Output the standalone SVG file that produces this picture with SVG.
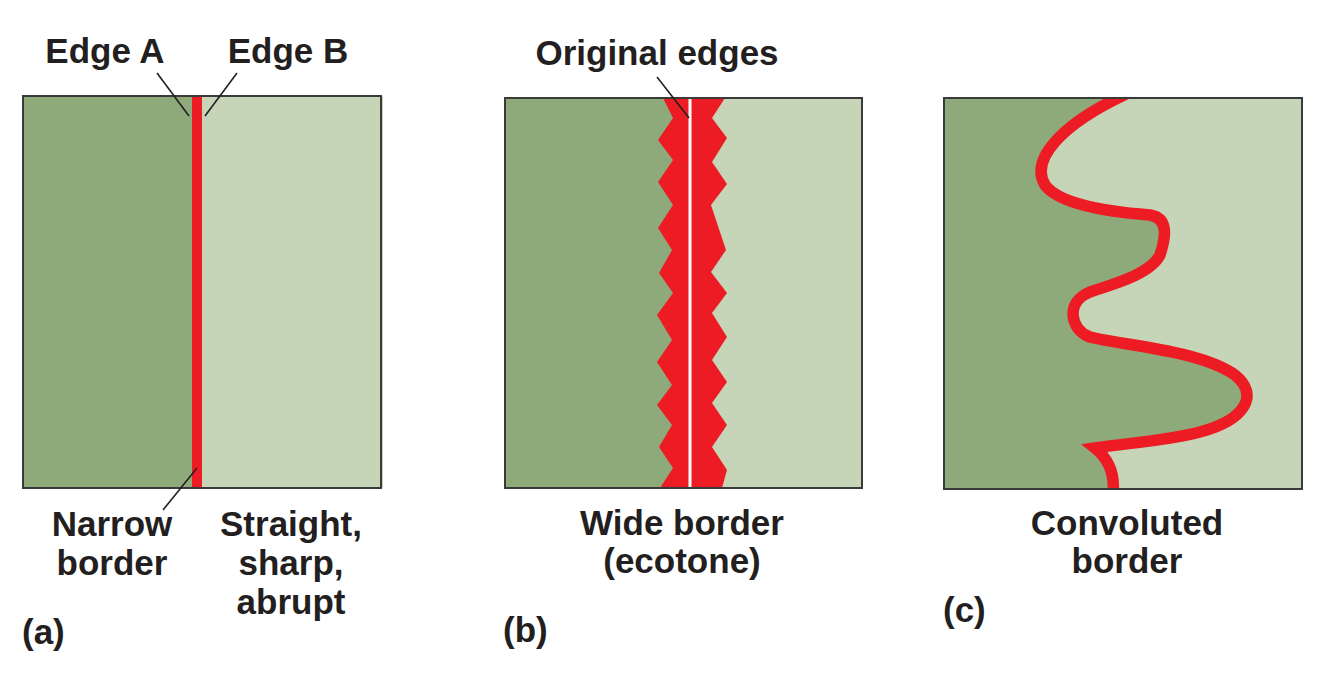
<svg xmlns="http://www.w3.org/2000/svg" width="1336" height="700" viewBox="0 0 1336 700">
<style>
.t{font-family:"Liberation Sans",Arial,sans-serif;font-weight:bold;font-size:35px;fill:#231f20;text-anchor:middle}
.tl{font-family:"Liberation Sans",Arial,sans-serif;font-weight:bold;font-size:35px;fill:#231f20}
.dk{fill:#8ea97a}
.lt{fill:#c6d5b8}
.frame{fill:none;stroke:#3a3a3a;stroke-width:2}
.lead{stroke:#231f20;stroke-width:1.6;fill:none}
.red{fill:#ed1c24}
</style>
<defs>
  <clipPath id="clipC"><rect x="944" y="98" width="358" height="391"/></clipPath>
</defs>
<rect width="1336" height="700" fill="#ffffff"/>

<g id="panel-a">
  <rect class="dk" x="23" y="96" width="170" height="392"/>
  <rect class="lt" x="193" y="96" width="190" height="392"/>
  <rect class="red" x="192" y="96" width="10" height="392"/>
  <rect class="frame" x="23" y="96" width="358" height="392"/>
</g>

<g id="panel-b">
  <rect class="dk" x="505" y="98" width="185" height="390"/>
  <rect class="lt" x="690" y="98" width="172" height="390"/>
  <polygon class="red" points="663,98 673,118 658,140 673,160 658,182 673,205 658,228 672,250 659,273 673,293 657,315 672,340 657,362 672,385 657,405 672,425 659,447 673,468 660,488 722,488 727,470 712,447 727,425 712,403 727,382 712,360 727,337 712,313 727,293 711,272 726,250 711,205 727,184 712,162 727,138 712,118 725,98"/>
  <rect x="688.5" y="98" width="3" height="390" fill="#ffffff"/>
  <rect class="frame" x="505" y="98" width="357" height="390"/>
</g>

<g id="panel-c">
  <rect class="lt" x="944" y="98" width="358" height="391"/>
  <path class="dk" d="M944,98 L1120,98 C1060,125 1030,160 1045,185 C1060,205 1110,212 1150,215 C1170,218 1165,240 1160,255 C1150,275 1110,285 1090,292 C1065,302 1070,330 1090,337 C1120,345 1200,350 1235,375 C1260,395 1245,420 1200,432 C1170,440 1130,443 1095,448 C1110,460 1115,475 1113,489 L944,489 Z"/>
  <path clip-path="url(#clipC)" d="M1126,94 C1060,125 1030,160 1045,185 C1060,205 1110,212 1150,215 C1170,218 1165,240 1160,255 C1150,275 1110,285 1090,292 C1065,302 1070,330 1090,337 C1120,345 1200,350 1235,375 C1260,395 1245,420 1200,432 C1170,440 1130,443 1095,448 C1110,460 1115,475 1113,494" fill="none" stroke="#ed1c24" stroke-width="11.5" stroke-linejoin="miter" stroke-miterlimit="10"/>
  <rect class="frame" x="944" y="98" width="358" height="391"/>
</g>

<g id="connectors">
  <line class="lead" x1="157" y1="73" x2="189" y2="116"/>
  <line class="lead" x1="237" y1="73" x2="205" y2="116"/>
  <line class="lead" x1="197" y1="468" x2="163" y2="510"/>
  <line class="lead" x1="657" y1="77" x2="689" y2="118"/>
</g>

<g id="labels">
  <text class="t" x="105" y="63">Edge A</text>
  <text class="t" x="288" y="63">Edge B</text>
  <text class="t" x="657" y="65">Original edges</text>
  <text class="t" x="112" y="536">Narrow</text>
  <text class="t" x="112" y="575">border</text>
  <text class="t" x="291" y="536">Straight,</text>
  <text class="t" x="291" y="575">sharp,</text>
  <text class="t" x="291" y="614">abrupt</text>
  <text class="tl" x="22" y="644">(a)</text>
  <text class="t" x="682" y="535">Wide border</text>
  <text class="t" x="682" y="573">(ecotone)</text>
  <text class="tl" x="503" y="642">(b)</text>
  <text class="t" x="1127" y="535">Convoluted</text>
  <text class="t" x="1127" y="573">border</text>
  <text class="tl" x="943" y="622">(c)</text>
</g>
</svg>
